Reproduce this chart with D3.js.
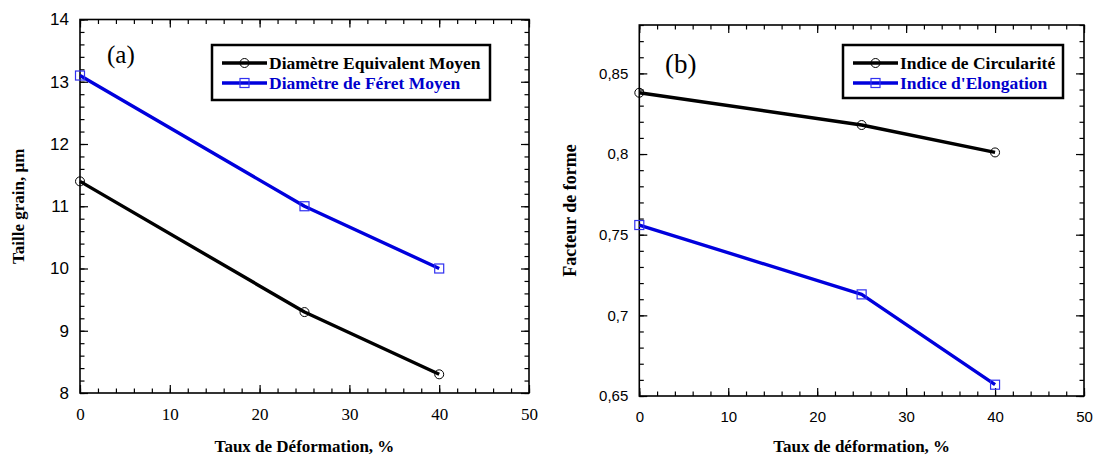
<!DOCTYPE html>
<html>
<head>
<meta charset="utf-8">
<script src="https://cdn.jsdelivr.net/npm/d3@7"></script>
<style>
  body { margin: 0; background: #fff; }
  svg { display: block; }
</style>
</head>
<body>
<div id="chart"></div>
<script>
// Data
const strain = [0, 25, 40];
const diamEquivalent = [11.4, 9.3, 8.3];
const diamFeret = [13.1, 11.0, 10.0];
const circularite = [0.838, 0.818, 0.801];
const elongation = [0.756, 0.713, 0.657];

const xTicks = [0, 10, 20, 30, 40, 50];
const yTicksA = [8, 9, 10, 11, 12, 13, 14];
const yTicksB = [0.65, 0.7, 0.75, 0.8, 0.85];
const yTickLabelsB = ['0,65', '0,7', '0,75', '0,8', '0,85'];

const serif = '"Liberation Serif", "Times New Roman", serif';
const sans = '"Liberation Sans", Arial, sans-serif';
const black = '#000';
const blue = '#0000dd';
const blueMarker = '#3030f0';

const svg = d3.select('#chart')
    .append('svg')
    .attr('width', 1095)
    .attr('height', 457);

const panels = [
    {
        left: 80, right: 529, top: 19.5, bottom: 393,
        yDomain: [8, 14], yTicks: yTicksA, yLabels: d => String(d), yMinor: 0.2,
        yFont: sans, ySize: 17, xFont: serif, xSize: 17,
        tag: '(a)', tagX: 107, tagY: 63, tagSize: 25,
        xTitle: 'Taux de Déformation, %', yTitle: 'Taille grain, µm', yTitleX: 18, yTitleSize: 17,
        legend: { x: 212, y: 45, w: 278, h: 55 },
        series: [
            { name: 'Diamètre Equivalent Moyen', values: diamEquivalent, color: black, marker: 'circle', text: black },
            { name: 'Diamètre de Féret Moyen', values: diamFeret, color: blue, marker: 'square', text: '#0000cc' }
        ]
    },
    {
        left: 639.3, right: 1084, top: 25, bottom: 396,
        yDomain: [0.65, 0.88], yTicks: yTicksB, yLabels: d => yTickLabelsB[yTicksB.indexOf(d)], yMinor: 0.01,
        yFont: sans, ySize: 15, xFont: sans, xSize: 15,
        tag: '(b)', tagX: 665, tagY: 73, tagSize: 27,
        xTitle: 'Taux de déformation, %', yTitle: 'Facteur de forme', yTitleX: 570, yTitleSize: 18,
        legend: { x: 843, y: 45, w: 220, h: 53 },
        series: [
            { name: 'Indice de Circularité', values: circularite, color: black, marker: 'circle', text: black },
            { name: "Indice d'Elongation", values: elongation, color: blue, marker: 'square', text: '#0000cc' }
        ]
    }
];

function drawMarker(g, type, cx, cy, color) {
    if (type === 'circle') {
        g.append('circle')
            .attr('cx', cx).attr('cy', cy).attr('r', 4.5)
            .attr('fill', 'none').attr('stroke', color).attr('stroke-width', 1);
    } else {
        g.append('rect')
            .attr('x', cx - 4.5).attr('y', cy - 4.5)
            .attr('width', 9).attr('height', 9)
            .attr('fill', 'none').attr('stroke', color).attr('stroke-width', 1.2);
    }
}

function drawPanel(p) {
    const g = svg.append('g');
    const x = d3.scaleLinear().domain([0, 50]).range([p.left, p.right]);
    const y = d3.scaleLinear().domain(p.yDomain).range([p.bottom, p.top]);

    const xMinor = d3.range(0, 50.001, 2);
    const yMinor = d3.range(p.yDomain[0], p.yDomain[1] + 1e-6, p.yMinor);

    // minor ticks on all four sides
    const minor = [
        [d3.axisBottom(x).tickValues(xMinor), `translate(0,${p.bottom})`],
        [d3.axisTop(x).tickValues(xMinor), `translate(0,${p.top})`],
        [d3.axisLeft(y).tickValues(yMinor), `translate(${p.left},0)`],
        [d3.axisRight(y).tickValues(yMinor), `translate(${p.right},0)`]
    ];
    minor.forEach(([axis, tr]) => {
        g.append('g').attr('transform', tr)
            .call(axis.tickSize(-4.5).tickSizeOuter(0).tickFormat(''))
            .call(a => a.select('.domain').remove())
            .call(a => a.selectAll('line').attr('stroke-width', 1.2));
    });

    // major ticks
    g.append('g').attr('transform', `translate(0,${p.bottom})`)
        .call(d3.axisBottom(x).tickValues(xTicks).tickSize(-8).tickSizeOuter(0).tickPadding(15))
        .call(a => a.select('.domain').remove())
        .call(a => a.selectAll('line').attr('stroke-width', 1.2))
        .call(a => a.selectAll('text').style('font-family', p.xFont).style('font-size', p.xSize + 'px').attr('fill', '#000'));
    g.append('g').attr('transform', `translate(0,${p.top})`)
        .call(d3.axisTop(x).tickValues(xTicks).tickSize(-8).tickSizeOuter(0).tickFormat(''))
        .call(a => a.select('.domain').remove())
        .call(a => a.selectAll('line').attr('stroke-width', 1.2));
    g.append('g').attr('transform', `translate(${p.left},0)`)
        .call(d3.axisLeft(y).tickValues(p.yTicks).tickSize(-8).tickSizeOuter(0).tickPadding(11).tickFormat(p.yLabels))
        .call(a => a.select('.domain').remove())
        .call(a => a.selectAll('line').attr('stroke-width', 1.2))
        .call(a => a.selectAll('text').style('font-family', p.yFont).style('font-size', p.ySize + 'px').attr('fill', '#000'));
    g.append('g').attr('transform', `translate(${p.right},0)`)
        .call(d3.axisRight(y).tickValues(p.yTicks).tickSize(-8).tickSizeOuter(0).tickFormat(''))
        .call(a => a.select('.domain').remove())
        .call(a => a.selectAll('line').attr('stroke-width', 1.2));

    // frame
    g.append('rect')
        .attr('x', p.left).attr('y', p.top)
        .attr('width', p.right - p.left).attr('height', p.bottom - p.top)
        .attr('fill', 'none').attr('stroke', '#000').attr('stroke-width', 1.6);

    // series
    const line = d3.line().x((d, i) => x(strain[i])).y(d => y(d));
    p.series.forEach(s => {
        g.append('path')
            .datum(s.values)
            .attr('d', line)
            .attr('fill', 'none')
            .attr('stroke', s.color)
            .attr('stroke-width', 3.4)
            .attr('stroke-linejoin', 'round');
    });
    p.series.forEach(s => {
        const mc = s.color === blue ? blueMarker : '#000';
        s.values.forEach((v, i) => drawMarker(g, s.marker, x(strain[i]), y(v), mc));
    });

    // panel tag
    g.append('text')
        .attr('x', p.tagX).attr('y', p.tagY)
        .style('font-family', serif).style('font-size', p.tagSize + 'px')
        .text(p.tag);

    // legend
    const L = p.legend;
    const lg = g.append('g');
    lg.append('rect')
        .attr('x', L.x).attr('y', L.y).attr('width', L.w).attr('height', L.h)
        .attr('fill', '#fff').attr('stroke', '#000').attr('stroke-width', 2.5);
    p.series.forEach((s, i) => {
        const ry = L.y + 18 + i * 20;
        const x0 = L.x + 10, x1 = L.x + 55;
        lg.append('line')
            .attr('x1', x0).attr('x2', x1).attr('y1', ry).attr('y2', ry)
            .attr('stroke', s.color).attr('stroke-width', 3.4);
        drawMarker(lg, s.marker, (x0 + x1) / 2, ry, s.color === blue ? blueMarker : '#000');
        lg.append('text')
            .attr('x', x1 + 2).attr('y', ry + 6)
            .style('font-family', serif).style('font-size', '17.5px').style('font-weight', 'bold')
            .attr('fill', s.text)
            .text(s.name);
    });

    // axis titles
    g.append('text')
        .attr('x', (p.left + p.right) / 2).attr('y', 452)
        .attr('text-anchor', 'middle')
        .style('font-family', serif).style('font-size', '17px').style('font-weight', 'bold')
        .text(p.xTitle);
    g.append('text')
        .attr('transform', `translate(${p.yTitleX + 6},${(p.top + p.bottom) / 2}) rotate(-90)`)
        .attr('text-anchor', 'middle')
        .style('font-family', serif).style('font-size', p.yTitleSize + 'px').style('font-weight', 'bold')
        .text(p.yTitle);
}

panels.forEach(drawPanel);
</script>
</body>
</html>
